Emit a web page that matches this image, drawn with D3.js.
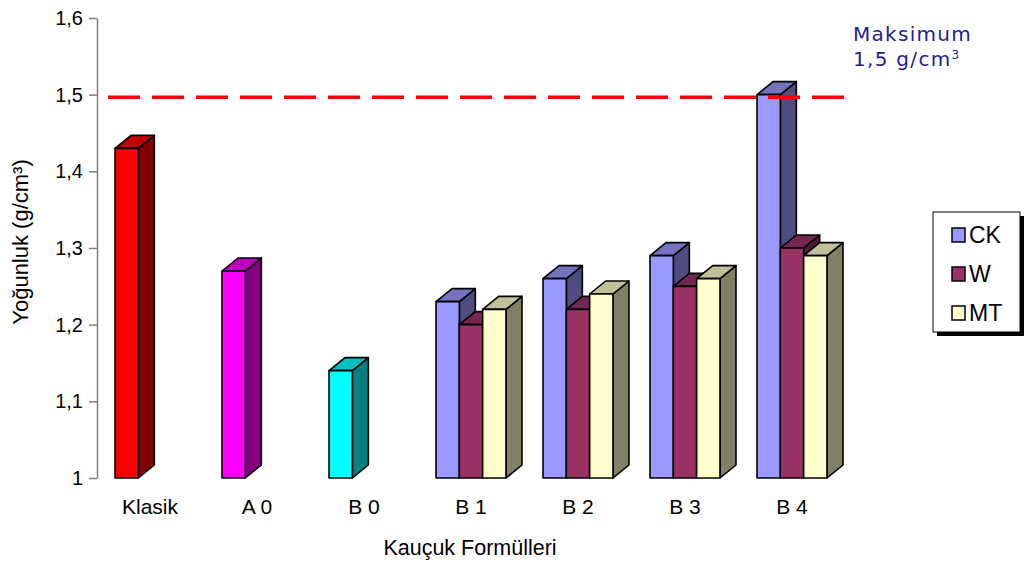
<!DOCTYPE html>
<html>
<head>
<meta charset="utf-8">
<script src="https://cdn.jsdelivr.net/npm/d3@7"></script>
<style>
  html, body { margin: 0; padding: 0; background: #fff; }
  svg { display: block; font-family: "Liberation Sans", Arial, sans-serif; }
</style>
</head>
<body>
<svg id="chart" width="1024" height="563"></svg>
<script>
// Rubber formulations and measured densities (g/cm³)
const categories = ["Klasik", "A 0", "B 0", "B 1", "B 2", "B 3", "B 4"];
const singleCategories = ["Klasik", "A 0", "B 0"];
const singleValues = [1.43, 1.27, 1.14];
const groupCategories = ["B 1", "B 2", "B 3", "B 4"];
const series = ["CK", "W", "MT"];
const ckValues = [1.23, 1.26, 1.29, 1.50];
const wValues = [1.20, 1.22, 1.25, 1.30];
const mtValues = [1.22, 1.24, 1.26, 1.29];
const tickValues = [1, 1.1, 1.2, 1.3, 1.4, 1.5, 1.6];
const tickLabels = ["1", "1,1", "1,2", "1,3", "1,4", "1,5", "1,6"];
const maxLimit = 1.5;

// front / side / top shades for each fill
const singleColors = [
  { front: "#FF0000", side: "#800000", top: "#C00000" },
  { front: "#FF00FF", side: "#800080", top: "#C000C0" },
  { front: "#00FFFF", side: "#008080", top: "#00C0C0" }
];
const seriesColors = {
  CK: { front: "#9999FF", side: "#4D4D80", top: "#7373C0" },
  W:  { front: "#993366", side: "#4D1A33", top: "#732650" },
  MT: { front: "#FFFFCC", side: "#808066", top: "#C0C099" }
};

const svg = d3.select("#chart");
const depthX = 16, depthY = 13;

const y = d3.scaleLinear().domain([1, 1.6]).range([478, 18]);
const x0 = d3.scaleBand().domain(categories).range([96.5, 845.5])
  .paddingInner(0.346).paddingOuter(0.173);
const x1 = d3.scaleBand().domain(series).range([0, x0.bandwidth()]);

// y axis
const yAxis = d3.axisLeft(y)
  .tickValues(tickValues)
  .tickFormat((d, i) => tickLabels[i])
  .tickSize(8).tickSizeOuter(0).tickPadding(6);
const gy = svg.append("g").attr("transform", "translate(97,0)").call(yAxis);
gy.select(".domain").attr("stroke", "#808080").attr("stroke-width", 1.5);
gy.selectAll(".tick line").attr("stroke", "#808080").attr("stroke-width", 1.5);
gy.selectAll(".tick text").attr("fill", "#000").style("font-size", "20px")
  .style("font-family", "'Liberation Sans', Arial, sans-serif");

// assemble the bar list in drawing order (left to right)
const bars = [];
categories.forEach(cat => {
  const si = singleCategories.indexOf(cat);
  if (si >= 0) {
    bars.push({ cat, s: "CK", value: singleValues[si], colors: singleColors[si] });
  } else {
    const gi = groupCategories.indexOf(cat);
    const vals = { CK: ckValues[gi], W: wValues[gi], MT: mtValues[gi] };
    series.forEach(s => bars.push({ cat, s, value: vals[s], colors: seriesColors[s] }));
  }
});

const barW = x1.bandwidth();
const y0 = y(1);
const gBars = svg.append("g")
  .attr("stroke", "#000").attr("stroke-width", 1.6).attr("stroke-linejoin", "round");

bars.forEach(b => {
  const xl = x0(b.cat) + x1(b.s);
  const xr = xl + barW;
  const yt = y(b.value);
  const g = gBars.append("g");
  g.append("polygon")
    .attr("points", [[xr, yt], [xr + depthX, yt - depthY], [xr + depthX, y0 - depthY], [xr, y0]].join(" "))
    .attr("fill", b.colors.side);
  g.append("polygon")
    .attr("points", [[xl, yt], [xl + depthX, yt - depthY], [xr + depthX, yt - depthY], [xr, yt]].join(" "))
    .attr("fill", b.colors.top);
  g.append("rect")
    .attr("x", xl).attr("y", yt).attr("width", barW).attr("height", y0 - yt)
    .attr("fill", b.colors.front);
});

// maximum limit line
svg.append("line")
  .attr("x1", 108).attr("x2", 845)
  .attr("y1", y(maxLimit) + 2.5).attr("y2", y(maxLimit) + 2.5)
  .attr("stroke", "#FF0000").attr("stroke-width", 3.5)
  .attr("stroke-dasharray", "32 12");

const maxNote = svg.append("g").attr("fill", "#1F1F8F")
  .style("font-family", "'DejaVu Sans', Verdana, sans-serif").style("font-size", "20px");
maxNote.append("text").attr("x", 853).attr("y", 41).attr("letter-spacing", "1.3px").text("Maksimum");
const line2 = maxNote.append("text").attr("x", 853).attr("y", 66).attr("letter-spacing", "1.3px");
line2.append("tspan").text("1,5 g/cm");
line2.append("tspan").attr("dy", -7).style("font-size", "12px").text("3");

// category labels
svg.append("g").selectAll("text").data(categories).join("text")
  .attr("x", d => x0(d) + x0.bandwidth() / 2)
  .attr("y", 514)
  .attr("text-anchor", "middle")
  .style("font-size", "21px")
  .text(d => d);

// axis titles
svg.append("text")
  .attr("x", 470).attr("y", 555)
  .attr("text-anchor", "middle")
  .style("font-size", "21.5px")
  .text("Kauçuk Formülleri");
svg.append("text")
  .attr("transform", "translate(28,242) rotate(-90)")
  .attr("text-anchor", "middle")
  .style("font-size", "22px")
  .text("Yoğunluk (g/cm³)");

// legend
const legend = svg.append("g");
legend.append("rect").attr("x", 937).attr("y", 216).attr("width", 87).attr("height", 120).attr("fill", "#000");
legend.append("rect").attr("x", 933).attr("y", 212).attr("width", 87).attr("height", 120)
  .attr("fill", "#fff").attr("stroke", "#000").attr("stroke-width", 1);
series.forEach((s, i) => {
  const yy = 228 + i * 39;
  legend.append("rect").attr("x", 952).attr("y", yy).attr("width", 13).attr("height", 14)
    .attr("fill", seriesColors[s].front).attr("stroke", "#000").attr("stroke-width", 1.5);
  legend.append("text").attr("x", 969).attr("y", yy + 15)
    .style("font-size", "23px").text(s);
});
</script>
</body>
</html>
